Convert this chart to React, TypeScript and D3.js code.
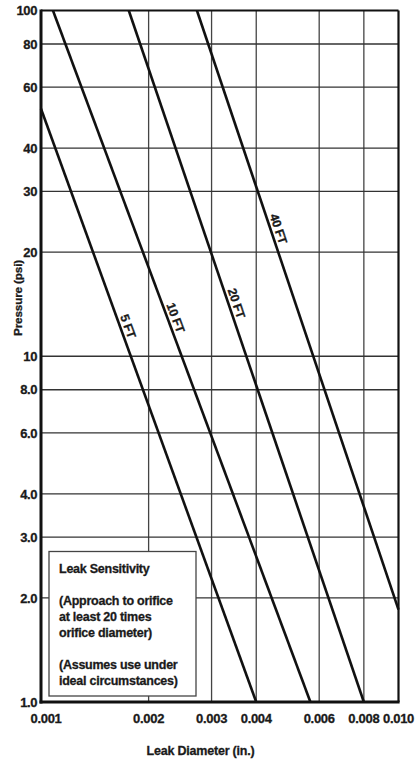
import React from "react";
import * as d3 from "d3";

// ---- data ----
const xTicks = [0.001, 0.002, 0.003, 0.004, 0.006, 0.008, 0.01];
const xTickLabels = ["0.001", "0.002", "0.003", "0.004", "0.006", "0.008", "0.010"];
const yTicks = [100, 80, 60, 40, 30, 20, 10, 8, 6, 4, 3, 2, 1];
const yTickLabels = ["100", "80", "60", "40", "30", "20", "10", "8.0", "6.0", "4.0", "3.0", "2.0", "1.0"];

const seriesNames = ["5 FT", "10 FT", "20 FT", "40 FT"];
// each line: [diameter, pressure] endpoints
const line5 = [[0.001, 52], [0.004, 1]];
const line10 = [[0.00108, 100], [0.00567, 1]];
const line20 = [[0.00176, 100], [0.008, 1]];
const line40 = [[0.00273, 100], [0.01, 1.85]];
const seriesLines = [line5, line10, line20, line40];
// pressure at which each curve label sits
const labelPressures = [12, 12.7, 14, 23];

const legendLines = [
  "Leak Sensitivity",
  "",
  "(Approach to orifice",
  "at least 20 times",
  "orifice diameter)",
  "",
  "(Assumes use under",
  "ideal circumstances)",
];

const FONT = "'Liberation Sans', Arial, Helvetica, sans-serif";
const INK = "#1a1a1a";

export default function App() {
  const W = 419;
  const H = 760;
  const left = 41;
  const right = 398.5;
  const top = 10.5;
  const bottom = 702;

  const x = d3.scaleLog().domain([0.001, 0.01]).range([left, right]);
  const y = d3.scaleLog().domain([1, 100]).range([bottom, top]);
  const lineGen = d3
    .line<number[]>()
    .x((d) => x(d[0]))
    .y((d) => y(d[1]));

  const gridX = xTicks.slice(1, -1);
  const gridY = yTicks.slice(1, -1);

  const labels = seriesLines.map((ln, i) => {
    const [p0, p1] = ln;
    const lp = labelPressures[i];
    const t = (Math.log10(p0[1]) - Math.log10(lp)) / (Math.log10(p0[1]) - Math.log10(p1[1]));
    const dd = Math.pow(10, Math.log10(p0[0]) + t * (Math.log10(p1[0]) - Math.log10(p0[0])));
    const ang =
      (Math.atan2(y(p1[1]) - y(p0[1]), x(p1[0]) - x(p0[0])) * 180) / Math.PI;
    return { fx: x(dd), fy: y(lp), ang, name: seriesNames[i] };
  });

  const legX = 49;
  const legY = 551.5;
  const legW = 147;
  const legH = 144.5;

  const textProps = { fontWeight: "bold", fill: INK, stroke: INK, strokeWidth: 0.3 } as any;

  return (
    <svg
      width={W}
      height={H}
      style={{ position: "absolute", left: 0, top: 0, background: "#fff" }}
      fontFamily={FONT}
    >
      <rect x={0} y={0} width={W} height={H} fill="#fff" />
      {/* grid */}
      {gridX.map((v) => (
        <line key={"gx" + v} x1={x(v)} x2={x(v)} y1={top} y2={bottom} stroke="#444" strokeWidth={1.3} />
      ))}
      {gridY.map((v) => (
        <line key={"gy" + v} x1={left} x2={right} y1={y(v)} y2={y(v)} stroke="#333" strokeWidth={1.3} />
      ))}

      {/* legend box (covers grid) */}
      <rect x={legX} y={legY} width={legW} height={legH} fill="#fff" stroke="#444" strokeWidth={1.3} />
      <text fontSize={12.5} letterSpacing={-0.25} {...textProps}>
        {legendLines.map((s, i) => (
          <tspan key={i} x={legX + 10} y={legY + 21 + i * 16}>
            {s}
          </tspan>
        ))}
      </text>

      {/* curves */}
      {seriesLines.map((ln, i) => (
        <path key={"l" + i} d={lineGen(ln) || ""} fill="none" stroke="#111" strokeWidth={2.6} />
      ))}
      {labels.map((l, i) => (
        <text
          key={"lb" + i}
          transform={`translate(${l.fx},${l.fy}) rotate(${l.ang})`}
          y={-3.5}
          textAnchor="middle"
          fontSize={12.3}
          letterSpacing={-0.3}
          {...textProps}
        >
          {l.name}
        </text>
      ))}

      {/* frame */}
      <line x1={left} x2={right} y1={top} y2={top} stroke="#111" strokeWidth={2.2} />
      <line x1={right} x2={right} y1={top} y2={bottom} stroke="#111" strokeWidth={2.2} />
      <line x1={left} x2={left} y1={top - 1} y2={bottom + 1.5} stroke="#111" strokeWidth={3} />
      <line x1={left - 1.5} x2={right + 1.1} y1={bottom} y2={bottom} stroke="#111" strokeWidth={3} />

      {/* y ticks */}
      {yTicks.map((v, i) => (
        <text
          key={"yt" + v}
          x={37}
          y={y(v)}
          dy="0.36em"
          textAnchor="end"
          fontSize={13}
          letterSpacing={-0.4}
          {...textProps}
        >
          {yTickLabels[i]}
        </text>
      ))}
      {/* x ticks */}
      {xTicks.map((v, i) => (
        <text
          key={"xt" + v}
          x={x(v) + (i === 0 ? 5 : 0)}
          y={722.5}
          textAnchor="middle"
          fontSize={13}
          letterSpacing={-0.3}
          {...textProps}
        >
          {xTickLabels[i]}
        </text>
      ))}

      {/* axis titles */}
      <text x={200.5} y={754.5} textAnchor="middle" fontSize={12.5} letterSpacing={-0.2} {...textProps}>
        Leak Diameter (in.)
      </text>
      <text
        transform="translate(21.5,298) rotate(-90)"
        textAnchor="middle"
        fontSize={11.8}
        letterSpacing={-0.2}
        {...textProps}
      >
        Pressure (psi)
      </text>
    </svg>
  );
}
